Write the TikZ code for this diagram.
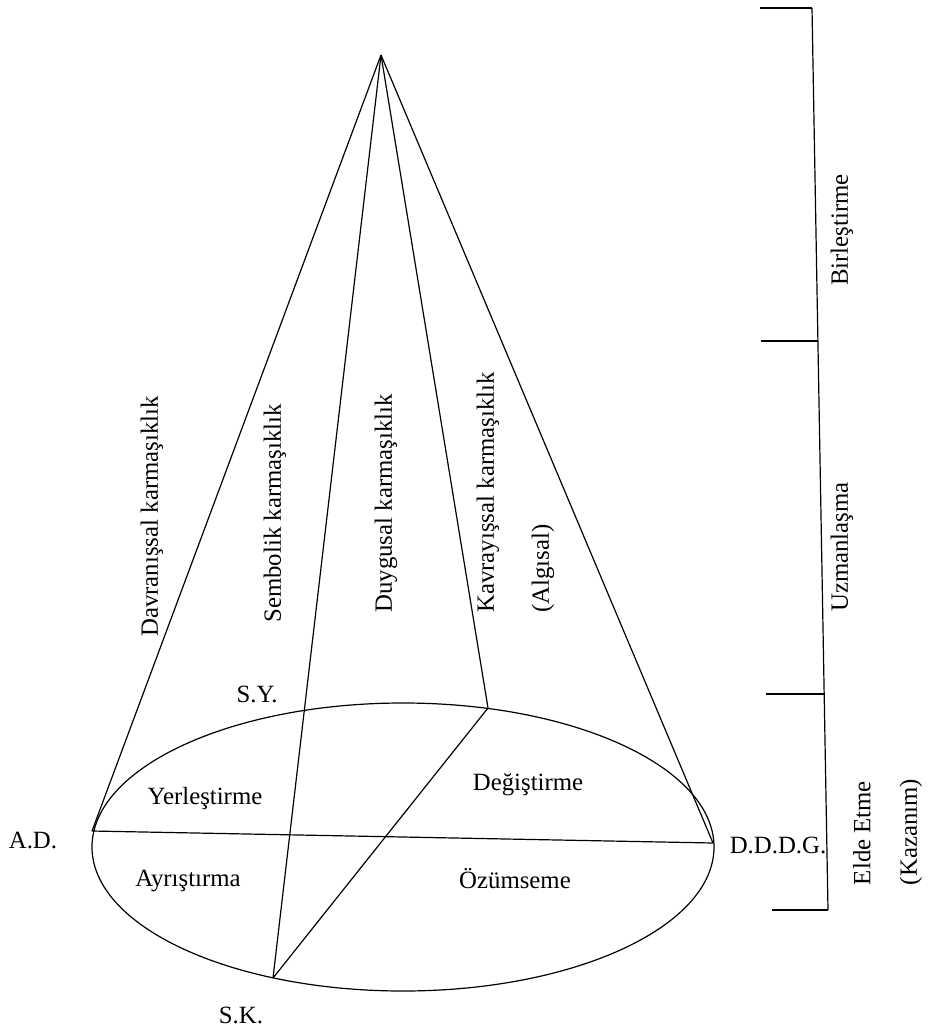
\documentclass[tikz,border=0pt]{standalone}
\usepackage{fontspec}
\setmainfont{Liberation Serif}
\begin{document}
\begin{tikzpicture}[x=0.5pt, y=-0.5pt, font=\fontsize{12.4}{14}\selectfont,
		every node/.style={inner sep=0pt},
		vlabel/.style={rotate=90},
		thinline/.style={line width=0.6pt}]
		\useasboundingbox (0,0) rectangle (927,1028);

		\coordinate (apex) at (381,55);
		\coordinate (AD) at (92,831);
		\coordinate (DG) at (713,843);
		\coordinate (SK) at (273,978);
		\coordinate (KV) at (488,708);

		\draw[thinline] (403,847) ellipse [x radius=311, y radius=144];

		\node (adlabel) at (33,840) {A.D.};
		\node (dglabel) at (778,845) {D.D.D.G.};
		\node (sylabel) at (257,694) {S.Y.};
		\node (sklabel) at (241,1015) {S.K.};

		\node (yerlestirme) at (205,799) {Yerleştirme};
		\node (degistirme) at (528,785) {Değiştirme};
		\node (ayristirma) at (188,881) {Ayrıştırma};
		\node (ozumseme) at (515,879) {Özümseme};

		\node[vlabel, anchor=west] (davranis) at (152,637) {Davranışsal karmaşıklık};
		\node[vlabel, anchor=west] (sembolik) at (275,623) {Sembolik karmaşıklık};
		\node[vlabel, anchor=west] (duygusal) at (386,613) {Duygusal karmaşıklık};
		\node[vlabel, anchor=west] (kavrayis) at (488,613) {Kavrayışsal karmaşıklık};
		\node[vlabel, anchor=west] (algisal) at (543,613) {(Algısal)};

		\node[vlabel] (birlestirme) at (842,230) {Birleştirme};
		\node[vlabel] (uzmanlasma) at (842,547) {Uzmanlaşma};
		\node[vlabel] (eldeetme) at (862,833) {Elde Etme};
		\node[vlabel] (kazanim) at (911,832) {(Kazanım)};

		\path (apex) edge[thinline] (AD);
		\path (apex) edge[thinline] (DG);
		\path (apex) edge[thinline] (SK);
		\path (apex) edge[thinline] (KV);
		\path (KV) edge[thinline] (SK);
		\path (AD) edge[thinline] (DG);

		\coordinate (b0) at (812,8);
		\coordinate (b1) at (818,341);
		\coordinate (b2) at (824,694);
		\coordinate (b3) at (828,910);
		\draw[thinline] (b0) -- (b3);
		\draw[thinline] (760,8) -- (b0);
		\draw[thinline] (761,341) -- (b1);
		\draw[thinline] (766,694) -- (b2);
		\draw[thinline] (772,910) -- (b3);
	\end{tikzpicture}
\end{document}
